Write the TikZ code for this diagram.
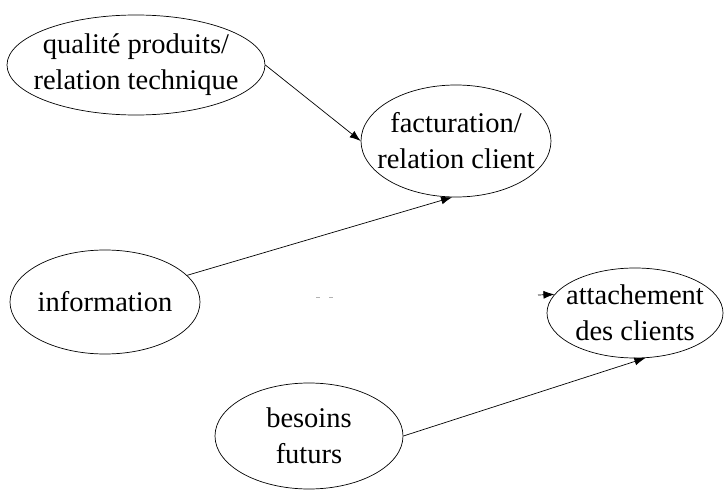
\documentclass[tikz,border=0pt]{standalone}
\usepackage{fontspec}
\setmainfont{Liberation Serif}
\usetikzlibrary{shapes.geometric,arrows.meta}
\begin{document}
\begin{tikzpicture}[x=1pt,y=-1pt,
  bub/.style={draw,ellipse,inner sep=0pt,line width=0.7pt},
  txt/.style={align=center,inner sep=0pt,font=\fontsize{28.5}{36}\selectfont},
  arr/.style={-{Latex[length=11pt,width=8pt]},line width=0.7pt}]
\useasboundingbox (0,0) rectangle (726,495);
\node[bub,minimum width=258,minimum height=100] (q) at (136,65) {};
\node[txt] (qt) at (q) {qualité produits/\\relation technique};
\node[bub,minimum width=190,minimum height=112] (f) at (456,141) {};
\node[txt] (ft) at (f) {facturation/\\relation client};
\node[bub,minimum width=176,minimum height=90] (a) at (635,313) {};
\node[txt] (at) at (a) {attachement\\des clients};
\node[bub,minimum width=190,minimum height=104] (i) at (105,302) {};
\node[txt] (it) at (i) {information};
\node[bub,minimum width=188,minimum height=106] (b) at (309,436) {};
\node[txt] (bt) at (b) {besoins\\futurs};
\coordinate (s) at (538,295);
\draw[arr] (q.east) -- (f.west);
\draw[arr] (i.18) -- (f.266);
\draw[arr] (b.east) -- (a.283);
\draw[arr] (s) -- (a.167);
\draw[gray!60,line width=0.8pt] (316,297) -- (320,297) (329,297) -- (333,297);
\end{tikzpicture}
\end{document}
